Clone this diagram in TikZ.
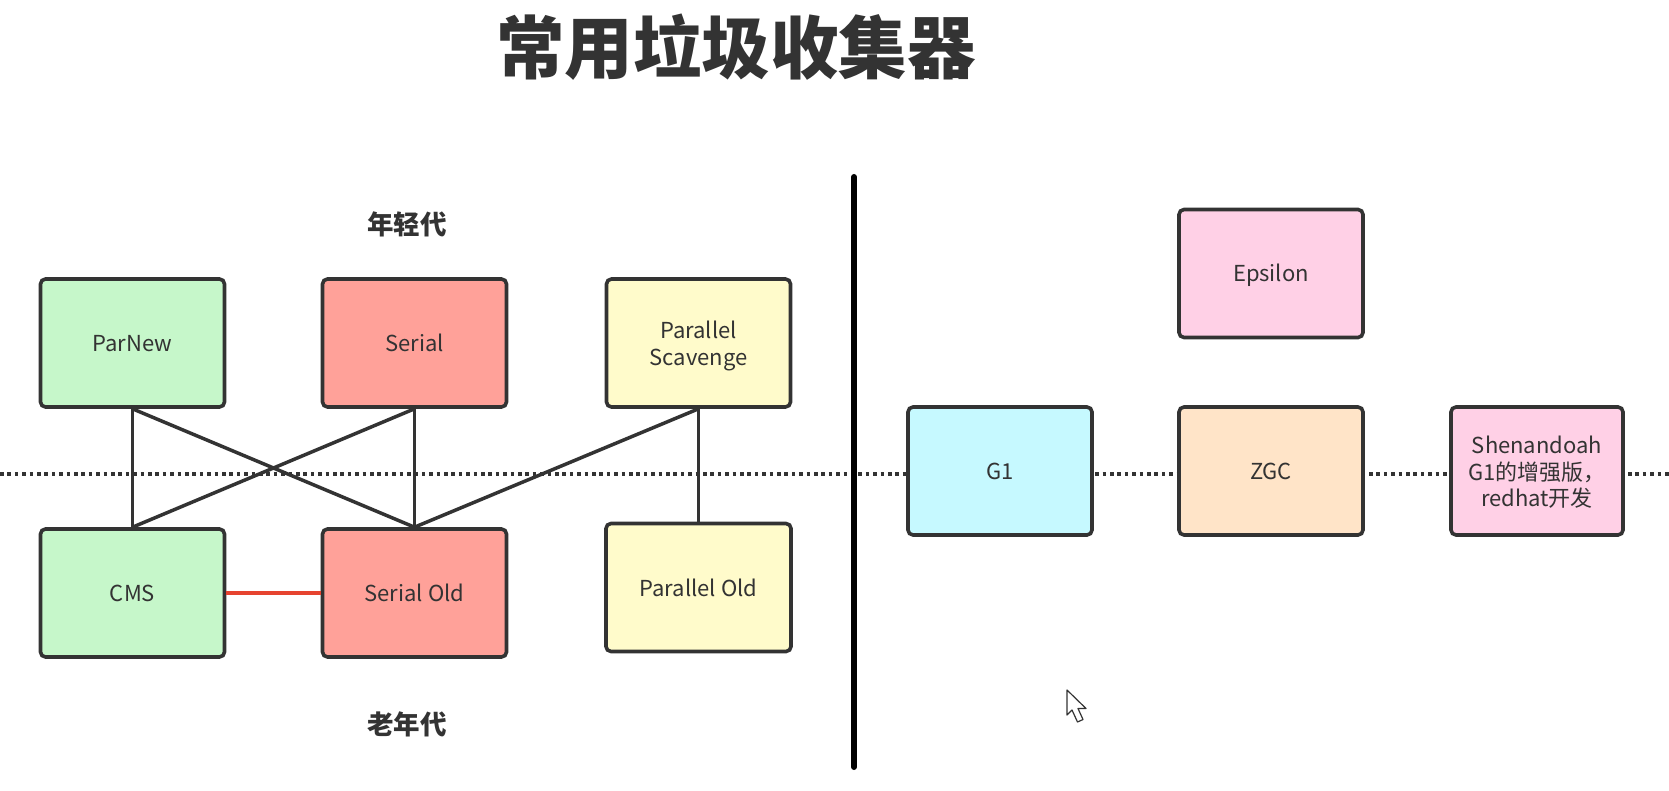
\documentclass[tikz,border=0pt]{standalone}
\usepackage{fontspec}
\setmainfont{Noto Sans CJK SC}
\newcommand{\topgap}{\rule{0pt}{23.5pt}}
\newcommand{\botgap}{\rule[-5pt]{0pt}{5pt}}
\tikzset{
  x=1pt,y=-1pt,
  gcbox/.style={draw=boxline,line width=3.6pt,rounded corners=5pt,minimum width=184pt,minimum height=128pt,inner sep=0pt,align=center,text=txt,font=\fontsize{22}{26.5}\selectfont},
  oneline/.style={execute at begin node=\rule{0pt}{22pt},execute at end node=\rule[-5pt]{0pt}{5pt}},
  link/.style={draw=boxline,line width=3.5pt},
  redlink/.style={draw=redline,line width=3.5pt},
  dotline/.style={draw=boxline,line width=3.6pt,dash pattern=on 3.6pt off 3.8pt},
  divider/.style={draw=black,line width=6pt,line cap=round},
  heading/.style={text=txt,inner sep=0pt,font=\fontsize{26.5}{30}\selectfont\bfseries},
  maintitle/.style={text=txt,inner sep=0pt,font=\fontsize{68.5}{72}\selectfont\bfseries},
  pointer/.style={draw=black!80,fill=white,line width=1.2pt,line join=round}
}
\definecolor{boxline}{HTML}{333333}
\definecolor{txt}{HTML}{333333}
\definecolor{redline}{HTML}{E6432F}
\definecolor{cgreen}{HTML}{C6F7CA}
\definecolor{cred}{HTML}{FFA199}
\definecolor{cyellow}{HTML}{FFFBCB}
\definecolor{cpink}{HTML}{FFD0E6}
\definecolor{ccyan}{HTML}{C6F9FF}
\definecolor{cpeach}{HTML}{FFE4C8}
\begin{document}
\begin{tikzpicture}
\useasboundingbox[fill=white] (0,0) rectangle (1669,791);
\coordinate (dl) at (0,474);
\coordinate (dr) at (1669,474);
\draw[dotline] (dl) -- (dr);
\coordinate (vt) at (854,177);
\coordinate (vb) at (854,767);
\draw[divider] (vt) -- (vb);
\node[maintitle] (title) at (736,47) {常用垃圾收集器};
\node[heading] (young) at (407,224) {年轻代};
\node[heading] (old) at (407,724) {老年代};
\node[gcbox,oneline,fill=cgreen] (parnew) at (132.5,343) {ParNew};
\node[gcbox,oneline,fill=cred] (serial) at (414.5,343) {Serial};
\node[gcbox,fill=cyellow] (ps) at (698.5,343) {\topgap Parallel\\Scavenge\botgap};
\node[gcbox,oneline,fill=cgreen] (cms) at (132.5,593) {CMS};
\node[gcbox,oneline,fill=cred] (sold) at (414.5,593) {Serial Old};
\node[gcbox,oneline,fill=cyellow,minimum width=185pt] (pold) at (698.5,587.5) {Parallel Old};
\node[gcbox,oneline,fill=cpink] (eps) at (1271,273.5) {Epsilon};
\node[gcbox,oneline,fill=ccyan] (g1) at (1000,471) {G1};
\node[gcbox,oneline,fill=cpeach] (zgc) at (1271,471) {ZGC};
\node[gcbox,fill=cpink,minimum width=172pt] (shen) at (1537,471) {\topgap Shenandoah\\G1的增强版，\\redhat开发\botgap};
\draw[link] (parnew.south) -- (cms.north);
\draw[link] (parnew.south) -- (sold.north);
\draw[link] (serial.south) -- (cms.north);
\draw[link] (serial.south) -- (sold.north);
\draw[link] (ps.south) -- (sold.north);
\draw[link] (ps.south) -- (pold.north);
\draw[redlink] (cms.east) -- (sold.west);
\coordinate (cur) at (1067,690);
\draw[pointer] (cur) -- ++(0,25) -- ++(5,-5) -- ++(5.5,12) -- ++(5.5,-2.5) -- ++(-5,-11) -- ++(8,0) -- cycle;
\end{tikzpicture}
\end{document}
